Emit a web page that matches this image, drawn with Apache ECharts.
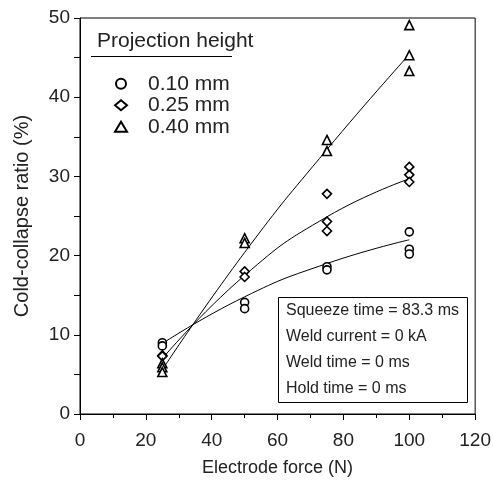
<!DOCTYPE html>
<html><head><meta charset="utf-8">
<script src="https://cdn.jsdelivr.net/npm/echarts@6/dist/echarts.min.js"></script>
<style>html,body{margin:0;padding:0;background:#fff}#c{width:494px;height:487px}</style>
</head><body><div id="c"></div>
<script>
const forces = [25, 25, 25, 50, 50, 50, 75, 75, 75, 100, 100, 100];
const h010 = [9.0, 8.6, null, 14.1, 13.3, null, 18.6, 18.2, null, 23.0, 20.8, 20.2];
const h025 = [7.4, 7.3, null, 18.0, 17.3, null, 27.8, 24.3, 23.1, 31.2, 30.2, 29.3];
const h040 = [6.4, 5.9, 5.3, 22.2, 21.6, null, 34.6, 33.2, null, 49.1, 45.3, 43.3];
const fitX = [25, 50, 75, 100];
const fit010 = [8.9, 14.8, 19.0, 22.0];
const fit025 = [7.0, 17.5, 24.9, 29.7];
const fit040 = [5.6, 20.4, 33.4, 45.4];
const seriesNames = ['0.10 mm', '0.25 mm', '0.40 mm'];
const xTicks = [0, 20, 40, 60, 80, 100, 120];
const yTicks = [0, 10, 20, 30, 40, 50];
const legendTitle = 'Projection height';
const boxLines = ['Squeeze time = 83.3 ms', 'Weld current = 0 kA', 'Weld time = 0 ms', 'Hold time = 0 ms'];

const FONT = 'Liberation Sans, Arial, sans-serif';
const pts = (ys) => forces.map((x, i) => [x, ys[i]]).filter(p => p[1] != null);
const fitPts = (ys) => fitX.map((x, i) => [x, ys[i]]);
const symbols = ['circle', 'diamond', 'triangle'];
const sizes = [8, 9, 9];
const data = [h010, h025, h040];
const fits = [fit010, fit025, fit040];

const series = [];
fits.forEach((f) => series.push({
  type: 'line', data: fitPts(f), smooth: 0.5, symbol: 'none', silent: true,
  lineStyle: {color: '#000', width: 1}, z: 2
}));
data.forEach((d, i) => series.push({
  name: seriesNames[i], type: 'scatter', data: pts(d), symbol: symbols[i], symbolSize: sizes[i],
  itemStyle: {color: '#fff', borderColor: '#000', borderWidth: 1.6, opacity: 1}, z: 3
}));

const chart = echarts.init(document.getElementById('c'), null, {renderer: 'canvas'});
chart.setOption({
  animation: false,
  backgroundColor: '#fff',
  grid: {left: 80, right: 18, top: 18, bottom: 73, show: true, borderColor: '#000', borderWidth: 1},
  xAxis: {
    type: 'value', min: xTicks[0], max: xTicks[xTicks.length - 1], interval: 20,
    name: 'Electrode force (N)', nameLocation: 'middle', nameGap: 45,
    nameTextStyle: {fontFamily: FONT, fontSize: 18, color: '#222'},
    axisLine: {show: true, lineStyle: {color: '#000', width: 1}},
    axisTick: {show: true, inside: false, length: 6, lineStyle: {color: '#000'}},
    minorTick: {show: true, splitNumber: 2, length: 4, lineStyle: {color: '#000'}},
    axisLabel: {fontFamily: FONT, fontSize: 19, color: '#222', margin: 17},
    splitLine: {show: false}
  },
  yAxis: {
    type: 'value', min: yTicks[0], max: yTicks[yTicks.length - 1], interval: 10,
    name: 'Cold-collapse ratio (%)', nameLocation: 'middle', nameGap: 48,
    nameTextStyle: {fontFamily: FONT, fontSize: 20, color: '#222'},
    axisLine: {show: true, lineStyle: {color: '#000', width: 1}},
    axisTick: {show: true, inside: false, length: 6, lineStyle: {color: '#000'}},
    minorTick: {show: true, splitNumber: 2, length: 6, lineStyle: {color: '#000'}},
    axisLabel: {fontFamily: FONT, fontSize: 19, color: '#222', margin: 10},
    splitLine: {show: false}
  },
  legend: {
    data: seriesNames, orient: 'vertical', left: 109, top: 68, itemGap: 0,
    itemWidth: 12, itemHeight: 10,
    textStyle: {fontFamily: FONT, fontSize: 21, lineHeight: 21.5, color: '#222', padding: [0, 0, 0, 16]}
  },
  graphic: [
    {type: 'text', left: 97, top: 31, style: {text: legendTitle, font: '21px ' + FONT, fill: '#222'}},
    {type: 'line', shape: {x1: 91, y1: 56.5, x2: 232, y2: 56.5}, style: {stroke: '#000', lineWidth: 1}},
    {type: 'rect', shape: {x: 278.5, y: 297.5, width: 189, height: 105}, style: {fill: '#fff', stroke: '#000', lineWidth: 1}, z: 10},
    ...boxLines.map((t, i) => ({type: 'text', left: 286, top: 303 + i * 26, z: 11,
      style: {text: t, font: '16px ' + FONT, fill: '#222'}}))
  ],
  series: series
});
</script></body></html>
